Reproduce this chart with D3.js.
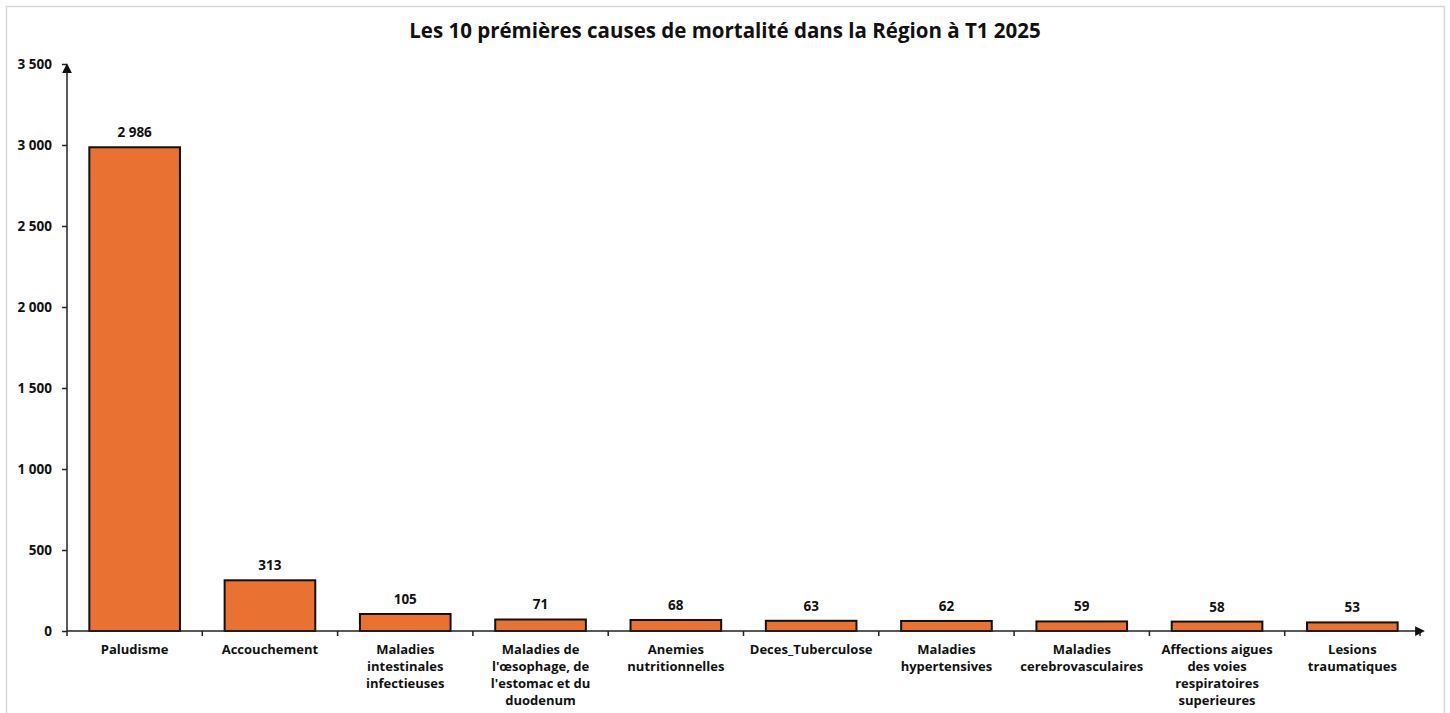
<!DOCTYPE html>
<html>
<head>
<meta charset="utf-8">
<script src="https://cdn.jsdelivr.net/npm/d3@7"></script>
<style>
    body { margin: 0; background: #fff; }
    text { font-family: "Open Sans", "Liberation Sans", sans-serif; }
</style>
</head>
<body>
<div id="grafico"></div>
<script>
var titulo = "Les 10 prémières causes de mortalité dans la Région à T1 2025";
var causes = [
    "Paludisme",
    "Accouchement",
    "Maladies\nintestinales\ninfectieuses",
    "Maladies de\nl'œsophage, de\nl'estomac et du\nduodenum",
    "Anemies\nnutritionnelles",
    "Deces_Tuberculose",
    "Maladies\nhypertensives",
    "Maladies\ncerebrovasculaires",
    "Affections aigues\ndes voies\nrespiratoires\nsuperieures",
    "Lesions\ntraumatiques"
];
var deces = [2986, 313, 105, 71, 68, 63, 62, 59, 58, 53];
var ticksY = [0, 500, 1000, 1500, 2000, 2500, 3000, 3500];

var W = 1450, H = 713;
var svg = d3.select("#grafico").append("svg").attr("width", W).attr("height", H);

// cadre du graphique
svg.append("rect")
        .attr("x", 6.5).attr("y", 6.5)
        .attr("width", 1438).attr("height", 720)
        .attr("fill", "#fff")
        .attr("stroke", "#d9d9d9")
        .attr("stroke-width", 1.5);

var margin = {top: 64, left: 67, right: 30, bottom: 82};
var width = W - margin.left - margin.right;   // 1353
var height = H - margin.top - margin.bottom;  // 567

var g = svg.append("g").attr("transform", "translate(" + margin.left + "," + margin.top + ")");

var data = causes.map(function (c, i) { return {clave: c, valor: deces[i]}; });

var x = d3.scaleBand().domain(causes).range([0, width]).paddingInner(0.33).paddingOuter(0.165);
var y = d3.scaleLinear().domain([0, 3500]).range([height, 0]);

var fmt = function (v) { return d3.format(",")(v).replace(/,/g, " "); };

svg.append("text")
        .attr("x", W / 2)
        .attr("y", 38)
        .attr("text-anchor", "middle")
        .attr("font-size", 20.5)
        .attr("font-weight", "bold")
        .attr("fill", "#111")
        .text(titulo);

// barres
g.selectAll(".barre")
        .data(data)
        .enter()
        .append("rect")
        .attr("class", "barre")
        .attr("x", function (d) { return x(d.clave); })
        .attr("y", function (d) { return y(d.valor); })
        .attr("width", x.bandwidth())
        .attr("height", function (d) { return height - y(d.valor); })
        .attr("fill", "#E97132")
        .attr("stroke", "#111")
        .attr("stroke-width", 2);

// etiquettes des valeurs
g.selectAll(".valeur")
        .data(data)
        .enter()
        .append("text")
        .attr("class", "valeur")
        .attr("x", function (d) { return x(d.clave) + x.bandwidth() / 2; })
        .attr("y", function (d) { return y(d.valor) - 10; })
        .attr("text-anchor", "middle")
        .attr("font-size", 13.5)
        .attr("font-weight", "bold")
        .attr("fill", "#111")
        .text(function (d) { return fmt(d.valor); });

// axe Y
var axeY = g.append("g")
        .call(d3.axisLeft(y).tickValues(ticksY).tickSize(5).tickPadding(10).tickFormat(fmt));
axeY.select(".domain").remove();
axeY.selectAll("line").attr("stroke", "#222").attr("stroke-width", 1.5);
axeY.selectAll("text")
        .attr("font-family", "'Open Sans', sans-serif")
        .attr("font-size", 13.5)
        .attr("font-weight", "bold")
        .attr("fill", "#111");

// axe X
var axeX = g.append("g")
        .attr("transform", "translate(0," + height + ")")
        .call(d3.axisBottom(x).tickSize(0).tickPadding(0));
axeX.select(".domain").remove();
axeX.selectAll("text").remove();

// ticks entre categories
var bornes = d3.range(causes.length + 1).map(function (i) { return i * x.step(); });
axeX.selectAll(".borne")
        .data(bornes)
        .enter()
        .append("line")
        .attr("x1", function (d) { return d; })
        .attr("x2", function (d) { return d; })
        .attr("y1", 0).attr("y2", 5)
        .attr("stroke", "#222").attr("stroke-width", 1.5);

axeX.selectAll(".categorie")
        .data(causes)
        .enter()
        .append("text")
        .attr("class", "categorie")
        .attr("text-anchor", "middle")
        .attr("font-size", 13)
        .attr("font-weight", "bold")
        .attr("fill", "#111")
        .attr("transform", function (d) { return "translate(" + (x(d) + x.bandwidth() / 2) + ",23)"; })
        .selectAll("tspan")
        .data(function (d) { return d.split("\n"); })
        .enter()
        .append("tspan")
        .attr("x", 0)
        .attr("dy", function (d, i) { return i === 0 ? 0 : 17; })
        .text(function (d) { return d; });

// lignes des axes avec fleches
svg.append("defs").append("marker")
        .attr("id", "fleche")
        .attr("viewBox", "0 0 10 10")
        .attr("refX", 5).attr("refY", 5)
        .attr("markerWidth", 7.5).attr("markerHeight", 6.5)
        .attr("orient", "auto")
        .append("path")
        .attr("d", "M0,0 L10,5 L0,10 z")
        .attr("fill", "#111");

g.append("line")
        .attr("x1", 0).attr("y1", height)
        .attr("x2", 0).attr("y2", y(3500) + 4)
        .attr("stroke", "#222").attr("stroke-width", 1.5)
        .attr("marker-end", "url(#fleche)");

g.append("line")
        .attr("x1", 0).attr("y1", height)
        .attr("x2", width).attr("y2", height)
        .attr("stroke", "#222").attr("stroke-width", 1.5)
        .attr("marker-end", "url(#fleche)");
</script>
</body>
</html>
